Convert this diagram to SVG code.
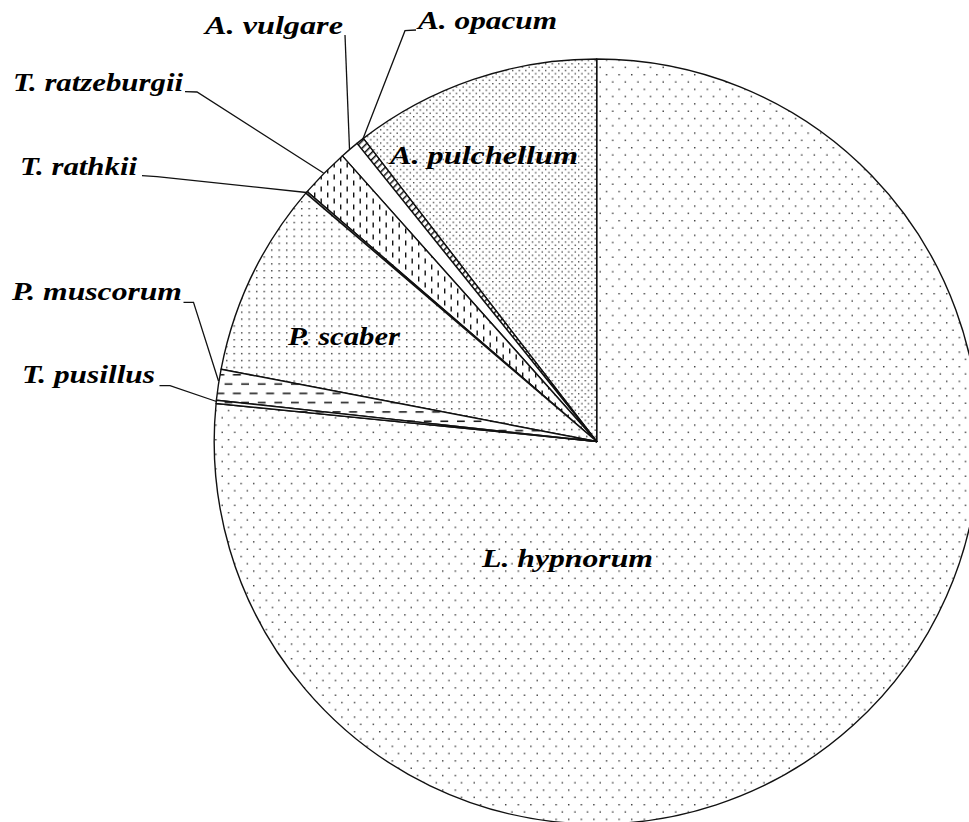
<svg xmlns="http://www.w3.org/2000/svg" width="969" height="822" viewBox="0 0 969 822">
<style>
.sl{stroke:#111;stroke-width:1.4;stroke-linejoin:round}
.ld{fill:none;stroke:#111;stroke-width:1.3}
.lb{font-family:"Liberation Serif","Times New Roman","DejaVu Serif",serif;font-size:26px;font-weight:bold;font-style:italic;fill:#000}
</style>
<defs>
<pattern id="pSparse" patternUnits="userSpaceOnUse" width="12.6" height="14.6">
<rect width="12.6" height="14.6" fill="#fff"/>
<rect x="1" y="1" width="1.4" height="1.4" fill="#333"/>
<rect x="7.3" y="8.3" width="1.4" height="1.4" fill="#333"/>
</pattern>
<pattern id="pDense" patternUnits="userSpaceOnUse" width="6.6" height="6.6">
<rect width="6.6" height="6.6" fill="#fff"/>
<rect x="0.5" y="0.5" width="1.3" height="1.3" fill="#333"/>
<rect x="3.8" y="3.8" width="1.3" height="1.3" fill="#333"/>
</pattern>
<pattern id="pMed" patternUnits="userSpaceOnUse" width="7.5" height="6.9">
<rect width="7.5" height="6.9" fill="#fff"/>
<rect x="1" y="1" width="1.4" height="1.4" fill="#333"/>
</pattern>
<pattern id="pVDash" patternUnits="userSpaceOnUse" width="13" height="12">
<rect width="13" height="12" fill="#fff"/>
<rect x="2" y="0.5" width="1.4" height="5" fill="#111"/>
<rect x="8.5" y="6.5" width="1.4" height="5" fill="#111"/>
</pattern>
<pattern id="pHDash" patternUnits="userSpaceOnUse" width="16.6" height="18.6">
<rect width="16.6" height="18.6" fill="#fff"/>
<rect x="0.5" y="2" width="8" height="1.5" fill="#111"/>
<rect x="8.8" y="11.3" width="8" height="1.5" fill="#111"/>
</pattern>
<pattern id="pHatch" patternUnits="userSpaceOnUse" width="5" height="10" patternTransform="rotate(45)">
<rect width="5" height="10" fill="#fff"/>
<rect x="0" y="0" width="1.5" height="10" fill="#111"/>
</pattern>
</defs>
<g id="L_hypnorum"><path class="sl" fill="url(#pSparse)" d="M596.7,441.5 L596.7,59 A382.5,382.5 0 1 1 216.1,403.5 Z"/></g>
<g id="A_pulchellum"><path class="sl" fill="url(#pDense)" d="M596.7,441.5 L596.7,59 A382.5,382.5 0 0 0 363.3,138.4 Z"/></g>
<g id="A_opacum"><path class="sl" fill="url(#pHatch)" d="M596.7,441.5 L363.3,138.4 A382.5,382.5 0 0 0 357.0,143.4 Z"/></g>
<g id="A_vulgare"><path class="sl" fill="#fff" d="M596.7,441.5 L357.0,143.4 A382.5,382.5 0 0 0 342.3,155.9 Z"/></g>
<g id="T_ratzeburgii"><path class="sl" fill="url(#pVDash)" d="M596.7,441.5 L342.3,155.9 A382.5,382.5 0 0 0 307.1,191.6 Z"/></g>
<g id="T_rathkii"><path class="sl" fill="#fff" d="M596.7,441.5 L307.1,191.6 A382.5,382.5 0 0 0 305.8,193.1 Z"/></g>
<g id="P_scaber"><path class="sl" fill="url(#pMed)" d="M596.7,441.5 L305.8,193.1 A382.5,382.5 0 0 0 221.1,369.2 Z"/></g>
<g id="P_muscorum"><path class="sl" fill="url(#pHDash)" d="M596.7,441.5 L221.1,369.2 A382.5,382.5 0 0 0 216.4,400.2 Z"/></g>
<g id="T_pusillus"><path class="sl" fill="url(#pHDash)" d="M596.7,441.5 L216.4,400.2 A382.5,382.5 0 0 0 216.1,403.5 Z"/></g>
<g id="connectors">
<polyline class="ld" points="416,30 405,30.7 362.5,140"/>
<polyline class="ld" points="345,35 349.5,149"/>
<polyline class="ld" points="185,91.7 197,92 323.5,173"/>
<polyline class="ld" points="142,175.7 157,176.7 306.5,192.5"/>
<polyline class="ld" points="183.5,302.3 193.5,302.3 218.5,381"/>
<polyline class="ld" points="159.5,385.7 170,385.7 216.5,401.5"/>
</g>
<g id="labels">
<text class="lb" x="390" y="164" textLength="188" lengthAdjust="spacingAndGlyphs">A. pulchellum</text>
<text class="lb" x="418" y="29" textLength="139" lengthAdjust="spacingAndGlyphs">A. opacum</text>
<text class="lb" x="205" y="34" textLength="138" lengthAdjust="spacingAndGlyphs">A. vulgare</text>
<text class="lb" x="13" y="91" textLength="170" lengthAdjust="spacingAndGlyphs">T. ratzeburgii</text>
<text class="lb" x="20" y="175" textLength="117" lengthAdjust="spacingAndGlyphs">T. rathkii</text>
<text class="lb" x="12" y="300" textLength="170" lengthAdjust="spacingAndGlyphs">P. muscorum</text>
<text class="lb" x="22" y="383" textLength="133" lengthAdjust="spacingAndGlyphs">T. pusillus</text>
<text class="lb" x="288" y="345" textLength="112" lengthAdjust="spacingAndGlyphs">P. scaber</text>
<text class="lb" x="482" y="567" textLength="171" lengthAdjust="spacingAndGlyphs">L. hypnorum</text>
</g>
</svg>
